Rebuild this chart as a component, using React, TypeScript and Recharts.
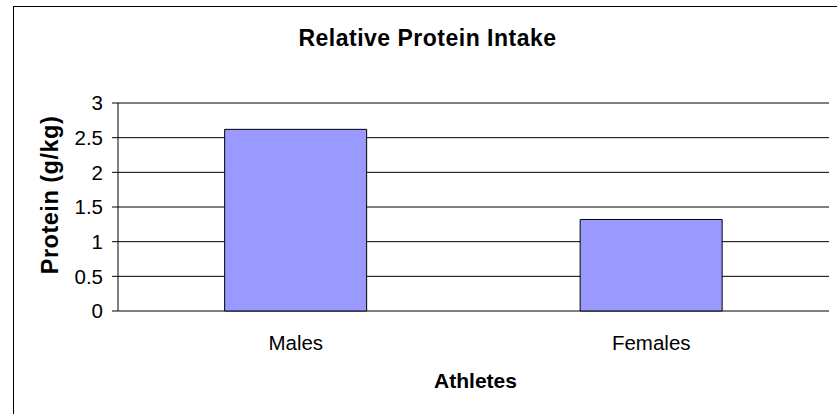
import React from 'react';
import { BarChart, Bar, XAxis, YAxis, CartesianGrid, Label } from 'recharts';

const categories = ['Males', 'Females'];
const proteinValues = [2.62, 1.32];
const yTicks = [0, 0.5, 1, 1.5, 2, 2.5, 3];
const edgeTicks = [0, 1, 2];
const chartTitle = 'Relative Protein Intake';
const xTitle = 'Athletes';
const yTitle = 'Protein (g/kg)';

const data = categories.map((c, i) => ({ athlete: c, protein: proteinValues[i] }));

const FONT = '"Liberation Sans", Arial, Helvetica, sans-serif';

const YTitle = (props: any) => {
  const vb = props.viewBox || { x: 0, y: 103, width: 118, height: 208 };
  const x = vb.x + 58;
  const y = vb.y + vb.height / 2 - 12;
  return (
    <text
      x={x}
      y={y}
      transform={`rotate(-90 ${x} ${y})`}
      textAnchor="middle"
      fontFamily={FONT}
      fontWeight="bold"
      fontSize={23.5}
      letterSpacing={0.5}
      fill="#000"
    >
      {yTitle}
    </text>
  );
};

const XTitle = (props: any) => {
  const vb = props.viewBox || { x: 118, y: 311, width: 711, height: 77 };
  return (
    <text
      x={vb.x + vb.width / 2 + 2}
      y={vb.y + vb.height}
      textAnchor="middle"
      fontFamily={FONT}
      fontWeight="bold"
      fontSize={21}
      fill="#000"
    >
      {xTitle}
    </text>
  );
};

export default function App() {
  return (
    <div
      style={{
        position: 'absolute',
        top: 0,
        left: 0,
        width: 837,
        height: 414,
        overflow: 'hidden',
        background: '#fff',
      }}
    >
      <BarChart
        width={837}
        height={414}
        data={data}
        margin={{ top: 103, right: 8, bottom: 26, left: 0 }}
        barCategoryGap="30%"
        style={{ fontFamily: FONT }}
      >
        <CartesianGrid xAxisId="cat" vertical={false} stroke="#000" strokeOpacity={1} />
        <XAxis
          xAxisId="edges"
          type="number"
          domain={[0, 2]}
          ticks={edgeTicks}
          height={0}
          tick={false}
          tickSize={6}
          tickLine={{ stroke: '#000' }}
          axisLine={{ stroke: '#000' }}
          allowDataOverflow
        />
        <XAxis
          xAxisId="cat"
          dataKey="athlete"
          height={77}
          axisLine={false}
          tickLine={false}
          tickSize={0}
          tickMargin={24}
          interval={0}
          tick={{ fontSize: 20.5, fill: '#000', fontFamily: FONT }}
        >
          <Label content={XTitle} />
        </XAxis>
        <YAxis
          width={118}
          domain={[0, 3]}
          ticks={yTicks}
          interval={0}
          tickSize={6}
          tickMargin={9}
          tickLine={{ stroke: '#000' }}
          axisLine={{ stroke: '#000' }}
          tick={{ fontSize: 20.5, fill: '#000', fontFamily: FONT }}
        >
          <Label content={YTitle} />
        </YAxis>
        <Bar
          xAxisId="cat"
          dataKey="protein"
          fill="#9999FF"
          stroke="#000"
          strokeWidth={1}
          isAnimationActive={false}
        />
      </BarChart>
      <svg
        width={837}
        height={414}
        style={{ position: 'absolute', top: 0, left: 0, pointerEvents: 'none' }}
      >
        <rect x={13.5} y={6.5} width={900} height={500} fill="none" stroke="#000" strokeWidth={1} />
        <text
          x={427.5}
          y={45.7}
          textAnchor="middle"
          fontFamily={FONT}
          fontWeight="bold"
          fontSize={23}
          letterSpacing={0.5}
          fill="#000"
        >
          {chartTitle}
        </text>
      </svg>
    </div>
  );
}
